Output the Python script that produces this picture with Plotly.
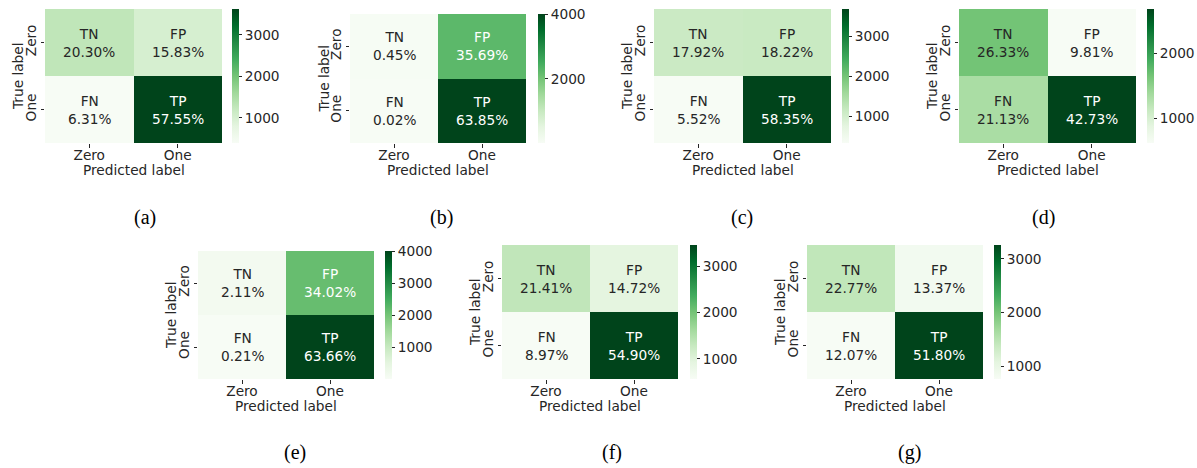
import plotly.graph_objects as go

# ---------------- data ----------------
panel_letters = ["a", "b", "c", "d", "e", "f", "g"]
cell_names = [["TN", "FP"], ["FN", "TP"]]
class_labels = ["Zero", "One"]
total_samples = 6290  # estimated size of the test set (same for every model)

pct_a = [[20.30, 15.83], [6.31, 57.55]]
pct_b = [[0.45, 35.69], [0.02, 63.85]]
pct_c = [[17.92, 18.22], [5.52, 58.35]]
pct_d = [[26.33, 9.81], [21.13, 42.73]]
pct_e = [[2.11, 34.02], [0.21, 63.66]]
pct_f = [[21.41, 14.72], [8.97, 54.90]]
pct_g = [[22.77, 13.37], [12.07, 51.80]]

cbar_ticks_a = [1000, 2000, 3000]
cbar_ticks_b = [2000, 4000]
cbar_ticks_c = [1000, 2000, 3000]
cbar_ticks_d = [1000, 2000]
cbar_ticks_e = [1000, 2000, 3000, 4000]
cbar_ticks_f = [1000, 2000, 3000]
cbar_ticks_g = [1000, 2000, 3000]

all_pct = [pct_a, pct_b, pct_c, pct_d, pct_e, pct_f, pct_g]
all_ticks = [cbar_ticks_a, cbar_ticks_b, cbar_ticks_c, cbar_ticks_d,
             cbar_ticks_e, cbar_ticks_f, cbar_ticks_g]

# ---------------- layout (pixels) ----------------
W, H = 1197, 468
# x0, x1, y0(top), y1(bottom), colorbar-left
geom = [
    (45, 222, 9, 143, 232),
    (350, 526, 14, 143, 538),
    (654, 831, 9, 143, 842),
    (959, 1136, 9, 143, 1147),
    (198, 374, 251, 379, 385),
    (502, 678, 245, 379, 690),
    (807, 983, 245, 379, 994),
]
caption_pos = [(145, 217), (441, 217), (742, 217), (1043, 217),
               (295, 452), (612, 452), (909, 452)]

greens = ["#f7fcf5", "#e5f5e0", "#c7e9c0", "#a1d99b", "#74c476",
          "#41ab5d", "#238b45", "#006d2c", "#00441b"]
colorscale = [[i / (len(greens) - 1), c] for i, c in enumerate(greens)]

FONT = "DejaVu Sans"
TXT = "#262626"
FS = 13.7


def hex2rgb(h):
    h = h.lstrip("#")
    return [int(h[i:i + 2], 16) / 255 for i in (0, 2, 4)]


def cmap(t):
    t = min(max(t, 0), 1)
    n = len(greens) - 1
    i = min(int(t * n), n - 1)
    f = t * n - i
    a, b = hex2rgb(greens[i]), hex2rgb(greens[i + 1])
    return [a[k] + (b[k] - a[k]) * f for k in range(3)]


def luminance(rgb):
    lin = [c / 12.92 if c <= 0.03928 else ((c + 0.055) / 1.055) ** 2.4 for c in rgb]
    return 0.2126 * lin[0] + 0.7152 * lin[1] + 0.0722 * lin[2]


fig = go.Figure()
annotations = []
layout = dict(
    width=W, height=H, margin=dict(l=0, r=0, t=0, b=0),
    paper_bgcolor="white", plot_bgcolor="white",
    font=dict(family=FONT, size=FS, color=TXT),
    showlegend=False,
)

for k, (pct, ticks, (x0, x1, y0, y1, cbx)) in enumerate(zip(all_pct, all_ticks, geom)):
    idx = "" if k == 0 else str(k + 1)
    xa, ya = "x" + idx, "y" + idx
    counts = [[p / 100 * total_samples for p in row] for row in pct]
    flat = [v for row in counts for v in row]
    zmin, zmax = min(flat), max(flat)
    fig.add_trace(go.Heatmap(
        z=counts, x=[0, 1], y=[0, 1], xaxis=xa, yaxis=ya,
        colorscale=colorscale, zmin=zmin, zmax=zmax, hoverinfo="skip",
        colorbar=dict(
            x=cbx / W, xanchor="left", xref="paper", xpad=0, ypad=0,
            y=1 - y0 / H, yanchor="top", len=(y1 - y0) / H, lenmode="fraction",
            thickness=7, thicknessmode="pixels", outlinewidth=0,
            tickvals=ticks, ticks="outside", ticklen=3.5, tickwidth=0.8,
            tickcolor=TXT, tickfont=dict(family=FONT, size=FS, color=TXT),
        ),
    ))
    layout["xaxis" + idx] = dict(
        domain=[x0 / W, x1 / W], anchor=ya, range=[-0.5, 1.5],
        tickvals=[0, 1], ticktext=class_labels, ticks="outside", ticklen=3.5,
        tickwidth=0.8, tickcolor=TXT, showgrid=False, zeroline=False,
        showline=False, fixedrange=True, tickfont=dict(size=FS),
        ticklabelstandoff=-4,
    )
    layout["yaxis" + idx] = dict(
        domain=[1 - y1 / H, 1 - y0 / H], anchor=xa, range=[1.5, -0.5],
        tickvals=[0, 1], ticktext=class_labels, ticks="outside", ticklen=3.5,
        tickwidth=0.8, tickcolor=TXT, showgrid=False, zeroline=False,
        showline=False, fixedrange=True, tickangle=-90, tickfont=dict(size=FS),
        ticklabelstandoff=-1,
    )
    for r in range(2):
        for c in range(2):
            t = (counts[r][c] - zmin) / (zmax - zmin)
            col = TXT if luminance(cmap(t)) > 0.408 else "white"
            annotations.append(dict(
                x=c, y=r, xref=xa, yref=ya, showarrow=False,
                text=f"{cell_names[r][c]}<br>{pct[r][c]:.2f}%",
                font=dict(family=FONT, size=FS, color=col),
            ))
    annotations.append(dict(
        x=0.5, y=0, xref=xa + " domain", yref=ya + " domain", yshift=-27,
        yanchor="middle", showarrow=False, text="Predicted label",
        font=dict(family=FONT, size=FS, color=TXT),
    ))
    annotations.append(dict(
        x=0, y=0.5, xref=xa + " domain", yref=ya + " domain", xshift=-27,
        xanchor="center", showarrow=False, text="True label", textangle=-90,
        font=dict(family=FONT, size=FS, color=TXT),
    ))
    cx, cy = caption_pos[k]
    annotations.append(dict(
        x=cx / W, y=1 - cy / H, xref="paper", yref="paper", showarrow=False,
        xanchor="center", yanchor="middle", text=f"({panel_letters[k]})",
        font=dict(family="Liberation Serif", size=20, color="black"),
    ))

layout["annotations"] = annotations
fig.update_layout(**layout)
fig.write_html("out.html")
